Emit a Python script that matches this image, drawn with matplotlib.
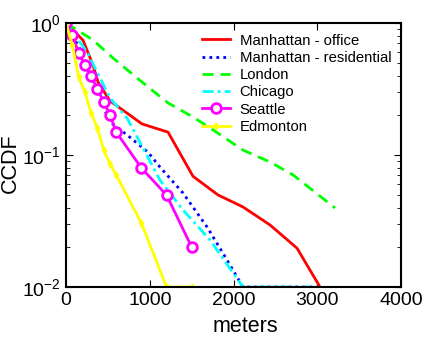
import matplotlib.pyplot as plt
import numpy as np

plt.rcParams['font.family'] = ['Liberation Sans', 'DejaVu Sans']
plt.rcParams['mathtext.fontset'] = 'custom'
plt.rcParams['mathtext.rm'] = 'Liberation Sans'

# Manhattan - office
office_x = [0, 107, 203, 322, 382, 525, 907, 1218, 1516, 1815, 2113, 2436, 2758, 3033]
office_y = [1.0, 0.855, 0.74, 0.48, 0.357, 0.257, 0.172, 0.149, 0.069, 0.0498, 0.0404, 0.0295, 0.0197, 0.01]

# Manhattan - residential
resid_x = [0, 203, 370, 525, 728, 979, 1122, 1397, 1684, 1875, 2113, 3000]
resid_y = [1.0, 0.572, 0.30, 0.178, 0.142, 0.105, 0.081, 0.0515, 0.0285, 0.018, 0.01, 0.01]

# London
london_x = [0, 322, 561, 848, 1218, 1516, 1755, 2113, 2436, 2710, 3212]
london_y = [1.0, 0.743, 0.543, 0.383, 0.248, 0.194, 0.155, 0.109, 0.0885, 0.0707, 0.0397]

# Chicago
chicago_x = [0, 251, 370, 525, 728, 919, 1122, 1397, 1720, 2113, 3000]
chicago_y = [1.0, 0.603, 0.426, 0.27, 0.191, 0.113, 0.0646, 0.0383, 0.0227, 0.01, 0.01]

# Seattle
seattle_x = [0, 75, 150, 225, 300, 375, 450, 525, 600, 900, 1200, 1500]
seattle_y = [1.0, 0.811, 0.593, 0.48, 0.397, 0.316, 0.252, 0.201, 0.149, 0.0797, 0.0498, 0.0201]

# Edmonton
edm_x = [0, 75, 150, 225, 300, 375, 450, 525, 600, 900, 1200, 1500]
edm_y = [1.0, 0.681, 0.39, 0.30, 0.208, 0.160, 0.109, 0.0855, 0.0705, 0.0305, 0.01, 0.01]

fig = plt.figure(figsize=(4.27, 3.39), dpi=100)
ax = fig.add_axes([0.1546, 0.1534, 0.7845, 0.7788])

lw = 2.0
ax.plot(office_x, office_y, color='red', lw=lw, label='Manhattan - office')
ax.plot(resid_x, resid_y, color='blue', lw=lw, linestyle=(0, (1, 1.5)), label='Manhattan - residential')
ax.plot(london_x, london_y, color='#00ff00', lw=lw, linestyle=(0, (4, 2.5)), label='London')
ax.plot(chicago_x, chicago_y, color='cyan', lw=lw, linestyle=(0, (4, 1.5, 1, 1.5)), label='Chicago')
ax.plot(seattle_x, seattle_y, color='magenta', lw=lw, marker='o', markersize=7,
        markerfacecolor='white', markeredgewidth=2, label='Seattle')
ax.plot(edm_x, edm_y, color='yellow', lw=lw, marker='d', markersize=3.5, label='Edmonton')

ax.set_yscale('log')
ax.set_xlim(0, 4000)
ax.set_ylim(0.01, 1)
ax.set_xticks([0, 1000, 2000, 3000, 4000])
ax.set_xlabel('meters', fontsize=15.5)
ax.set_ylabel('CCDF', fontsize=15.5)
ax.xaxis.set_label_coords(0.534, -0.11)
ax.yaxis.set_label_coords(-0.135, 0.47)
ax.tick_params(which='both', direction='in', top=True, right=True, labelsize=14)
ax.tick_params(which='major', length=5)
ax.tick_params(which='minor', length=3)
for s in ax.spines.values():
    s.set_linewidth(1.5)

ax.legend(loc='upper left', bbox_to_anchor=(0.405, 0.96), frameon=False, fontsize=10.7,
          handlelength=1.9, handletextpad=0.65, labelspacing=0.22, borderaxespad=0, borderpad=0)

fig.savefig('out.png', dpi=100)
